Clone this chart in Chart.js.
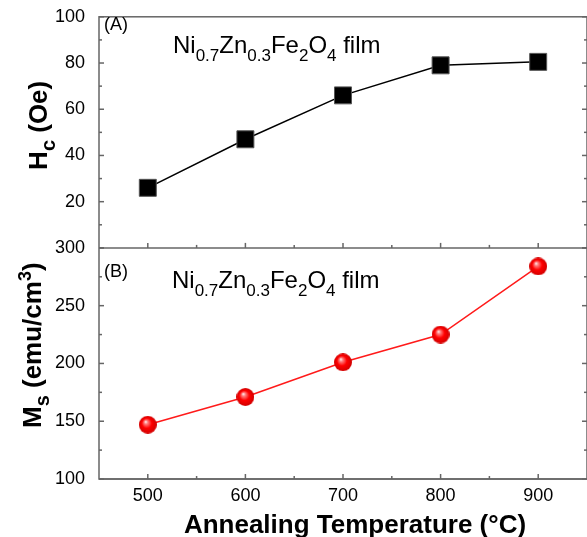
<!DOCTYPE html>
<html>
<head>
  <meta charset="utf-8" />
  <title>Hc and Ms vs annealing temperature</title>
  <script src="https://cdn.jsdelivr.net/npm/chart.js"></script>
  <style>
    html, body { margin: 0; padding: 0; background: #fff; overflow: hidden; }
    #wrap { width: 600px; height: 537px; }
  </style>
</head>
<body>
  <div id="wrap"><canvas id="chart" width="600" height="537"></canvas></div>

  <script>
    var temps = [500, 600, 700, 800, 900];
    var coercivity = [26, 47, 66, 79, 80.5];       // Hc (Oe)
    var magnetization = [147, 171, 201, 225, 284]; // Ms (emu/cm3)
    var tempTicks = [500, 600, 700, 800, 900];
    var hcTicks = [0, 20, 40, 60, 80, 100];
    var msTicks = [100, 150, 200, 250, 300];

    var FONT = '"Liberation Sans", Arial, sans-serif';

    // shaded red ball used as point style for the Ms curve
    function makeBall(r) {
      var c = document.createElement('canvas');
      c.width = c.height = r * 2;
      var g = c.getContext('2d');
      var grad = g.createRadialGradient(r * 0.75, r * 0.65, 0, r, r, r);
      grad.addColorStop(0, '#ffffff');
      grad.addColorStop(0.2, '#ff8080');
      grad.addColorStop(0.55, '#ff0000');
      grad.addColorStop(1, '#d00000');
      g.fillStyle = grad;
      g.beginPath();
      g.arc(r, r, r, 0, Math.PI * 2);
      g.fill();
      return c;
    }

    function richText(ctx, parts, x, y) {
      parts.forEach(function (p) {
        ctx.font = (p.bold ? 'bold ' : '') + p.size + 'px ' + FONT;
        ctx.fillText(p.t, x, y + (p.dy || 0));
        x += ctx.measureText(p.t).width;
      });
    }

    function seg(ctx, x1, y1, x2, y2) {
      ctx.beginPath();
      ctx.moveTo(x1, y1);
      ctx.lineTo(x2, y2);
      ctx.stroke();
    }

    // box, panel divider and inward ticks
    var frameTicks = {
      id: 'frameTicks',
      afterDatasetsDraw: function (chart) {
        var ctx = chart.ctx, a = chart.chartArea, sx = chart.scales.x;
        ctx.save();
        ctx.strokeStyle = '#666';
        ctx.lineWidth = 1.5;
        ctx.strokeRect(a.left, a.top, a.right - a.left, a.bottom - a.top);
        ['yH', 'yM'].forEach(function (id) {
          var s = chart.scales[id];
          seg(ctx, a.left, s.bottom, a.right, s.bottom);
          var v = s.ticks.map(function (t) { return t.value; });
          for (var i = 0; i < v.length; i++) {
            var y = s.getPixelForValue(v[i]);
            seg(ctx, a.left, y, a.left + 5, y);
            seg(ctx, a.right, y, a.right - 5, y);
            if (i > 0) {
              var m = s.getPixelForValue((v[i - 1] + v[i]) / 2);
              seg(ctx, a.left, m, a.left + 3, m);
              seg(ctx, a.right, m, a.right - 3, m);
            }
          }
          var xv = sx.ticks.map(function (t) { return t.value; });
          for (var j = 0; j < xv.length; j++) {
            var x = sx.getPixelForValue(xv[j]);
            seg(ctx, x, s.bottom, x, s.bottom - 5);
            if (j > 0) {
              var mx = sx.getPixelForValue((xv[j - 1] + xv[j]) / 2);
              seg(ctx, mx, s.bottom, mx, s.bottom - 3);
            }
          }
        });
        ctx.restore();
      }
    };

    function filmLabel(size, sub) {
      return [
        { t: 'Ni', size: size }, { t: '0.7', size: sub, dy: 8 },
        { t: 'Zn', size: size }, { t: '0.3', size: sub, dy: 8 },
        { t: 'Fe', size: size }, { t: '2', size: sub, dy: 8 },
        { t: 'O', size: size }, { t: '4', size: sub, dy: 8 },
        { t: ' film', size: size }
      ];
    }

    var labels = {
      id: 'labels',
      afterDraw: function (chart) {
        var ctx = chart.ctx, a = chart.chartArea;
        var yH = chart.scales.yH, yM = chart.scales.yM;
        ctx.save();
        ctx.fillStyle = '#000';
        ctx.textBaseline = 'alphabetic';
        ctx.textAlign = 'left';

        richText(ctx, [{ t: '(A)', size: 18 }], a.left + 5, yH.top + 13);
        richText(ctx, [{ t: '(B)', size: 18 }], a.left + 5, yM.top + 29);
        richText(ctx, filmLabel(24, 17), a.left + 74, yH.top + 36);
        richText(ctx, filmLabel(24, 17), a.left + 73, yM.top + 40);

        // x title, sitting a little right of the axis centre as in the original
        ctx.textAlign = 'center';
        ctx.font = 'bold 26px ' + FONT;
        ctx.fillText('Annealing Temperature (°C)', 355, 533);
        ctx.textAlign = 'left';

        // rotated axis titles with sub/superscripts
        ctx.save();
        ctx.translate(46.5, yH.bottom - 78);
        ctx.rotate(-Math.PI / 2);
        richText(ctx, [
          { t: 'H', size: 26, bold: true },
          { t: 'c', size: 20, bold: true, dy: 8 },
          { t: ' (Oe)', size: 26, bold: true }
        ], 0, 0);
        ctx.restore();

        ctx.save();
        ctx.translate(41, yM.bottom - 51);
        ctx.rotate(-Math.PI / 2);
        richText(ctx, [
          { t: 'M', size: 26, bold: true },
          { t: 's', size: 20, bold: true, dy: 8 },
          { t: ' (emu/cm', size: 26, bold: true },
          { t: '3', size: 18, bold: true, dy: -10 },
          { t: ')', size: 26, bold: true }
        ], 0, 0);
        ctx.restore();

        ctx.restore();
      }
    };

    function points(ys) {
      return temps.map(function (t, i) { return { x: t, y: ys[i] }; });
    }

    function yScale(ticks, min, max) {
      return {
        type: 'linear',
        position: 'left',
        stack: 'panels',
        stackWeight: 1,
        min: min,
        max: max,
        afterBuildTicks: function (s) { s.ticks = ticks.map(function (v) { return { value: v }; }); },
        afterFit: function (s) { s.width = 99; },
        grid: { display: false },
        border: { display: false },
        ticks: {
          font: { family: FONT, size: 18 },
          color: '#000',
          padding: 6,
          callback: function (v) { return (min === 0 && v === 0) ? '' : v; }
        }
      };
    }

    new Chart(document.getElementById('chart'), {
      type: 'line',
      data: {
        datasets: [
          {
            label: 'Hc',
            data: points(coercivity),
            yAxisID: 'yH',
            borderColor: '#000',
            borderWidth: 1.5,
            pointStyle: 'rect',
            pointRadius: 12,
            pointBackgroundColor: '#000',
            pointBorderColor: '#555',
            pointBorderWidth: 1
          },
          {
            label: 'Ms',
            data: points(magnetization),
            yAxisID: 'yM',
            borderColor: '#ff1a1a',
            borderWidth: 1.5,
            pointStyle: makeBall(9),
            pointRadius: 9
          }
        ]
      },
      options: {
        responsive: false,
        animation: false,
        devicePixelRatio: 1,
        layout: { padding: { top: 16, right: 10, left: 0, bottom: 0 } },
        plugins: { legend: { display: false }, tooltip: { enabled: false } },
        scales: {
          x: {
            type: 'linear',
            min: 450,
            max: 950,
            afterBuildTicks: function (s) { s.ticks = tempTicks.map(function (v) { return { value: v }; }); },
            afterFit: function (s) { s.height = 58; },
            grid: { display: false },
            border: { display: false },
            ticks: { font: { family: FONT, size: 18 }, color: '#000', padding: -2 }
          },
          // later scale in a left stack is placed on top
          yM: yScale(msTicks, 100, 300),
          yH: yScale(hcTicks, 0, 100)
        }
      },
      plugins: [frameTicks, labels]
    });
  </script>
</body>
</html>
